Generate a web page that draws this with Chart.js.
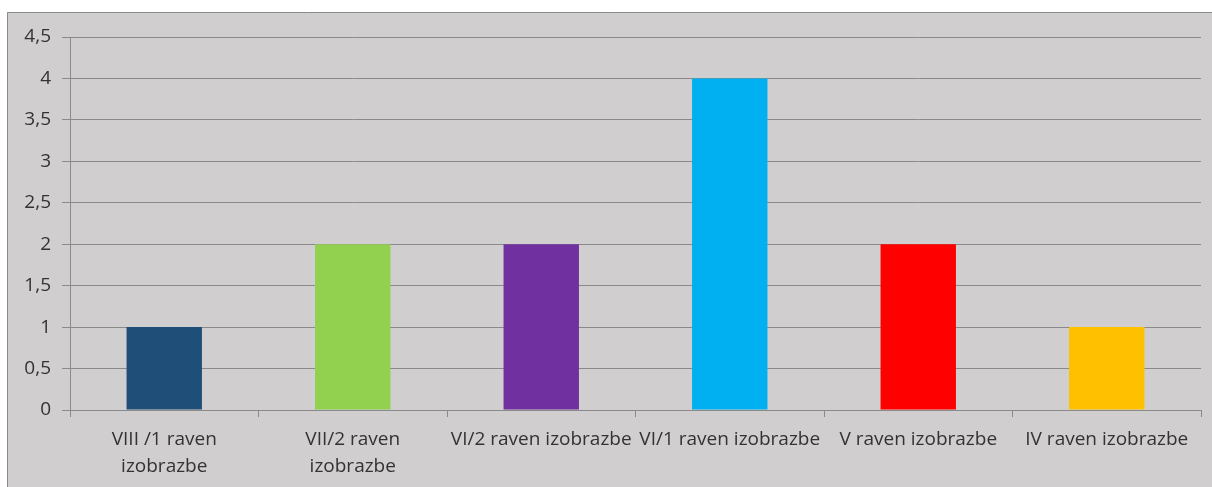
<!DOCTYPE html>
<html>
<head>
<meta charset="utf-8">
<script src="https://cdn.jsdelivr.net/npm/chart.js@4"></script>
<style>
  html, body { margin: 0; padding: 0; background: #ffffff; }
  canvas { display: block; }
</style>
</head>
<body>
<canvas id="grafico" width="1212" height="487"></canvas>
<script>
// podatki
const categories = [
  ['VIII /1 raven', 'izobrazbe'],
  ['VII/2 raven', 'izobrazbe'],
  'VI/2 raven izobrazbe',
  'VI/1 raven izobrazbe',
  'V raven izobrazbe',
  'IV raven izobrazbe'
];
const values = [1, 2, 2, 4, 2, 1];
const yMin = 0;
const yMax = 4.5;
const yStep = 0.5;

const barColors = ['#1f4e79', '#92d050', '#7030a0', '#00b0f0', '#ff0000', '#ffc000'];

(function(){

  const ozadje = {
    id: 'ozadje',
    beforeDraw(chart) {
      const ctx = chart.ctx;
      ctx.save();
      ctx.fillStyle = '#ffffff';
      ctx.fillRect(0, 0, chart.width, chart.height);
      ctx.fillStyle = '#d0cece';
      ctx.fillRect(7, 12, chart.width, chart.height);
      ctx.strokeStyle = '#8a8a8a';
      ctx.lineWidth = 1;
      ctx.beginPath();
      ctx.moveTo(7.5, chart.height);
      ctx.lineTo(7.5, 12.5);
      ctx.lineTo(chart.width, 12.5);
      ctx.stroke();
      ctx.restore();
    }
  };

  const pisava = { family: '"Open Sans", sans-serif', size: 19, lineHeight: 1.42 };

  new Chart(document.getElementById('grafico'), {
    type: 'bar',
    data: {
      labels: categories,
      datasets: [{
        data: values,
        backgroundColor: barColors,
        borderWidth: 0,
        barPercentage: 0.4,
        categoryPercentage: 1
      }]
    },
    options: {
      responsive: false,
      animation: false,
      devicePixelRatio: 1,
      layout: { padding: { left: 7, top: 37, right: 11, bottom: 0 } },
      plugins: {
        legend: { display: false },
        tooltip: { enabled: false }
      },
      scales: {
        x: {
          grid: {
            offset: true,
            drawOnChartArea: false,
            drawTicks: true,
            tickLength: 7,
            color: '#8a8a8a'
          },
          border: { color: '#8a8a8a', width: 1 },
          ticks: {
            color: '#333333',
            font: pisava,
            padding: 9,
            autoSkip: false,
            maxRotation: 0,
            minRotation: 0
          },
          afterFit(scale) { scale.height = 77; }
        },
        y: {
          min: yMin,
          max: yMax,
          grid: {
            color: '#8a8a8a',
            tickLength: 8
          },
          border: { color: '#8a8a8a', width: 1 },
          ticks: {
            stepSize: yStep,
            color: '#333333',
            font: pisava,
            padding: 11,
            callback: v => String(v).replace('.', ',')
          },
          afterFit(scale) { scale.width = 63; }
        }
      }
    },
    plugins: [ozadje]
  });

})();
</script>
</body>
</html>
